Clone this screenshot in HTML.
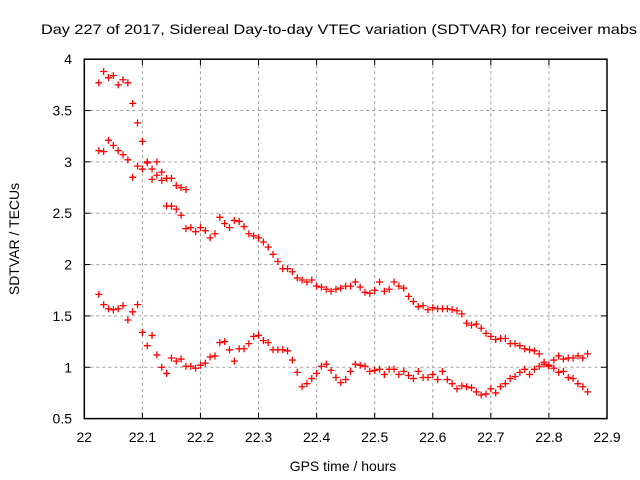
<!DOCTYPE html>
<html><head><meta charset="utf-8"><style>
html,body{margin:0;padding:0;background:#fff;}
svg{display:block;font-family:"Liberation Sans",sans-serif;}
</style></head><body>
<svg id="chart" width="640" height="480" viewBox="0 0 640 480" xmlns="http://www.w3.org/2000/svg">
<rect width="640" height="480" fill="#fff"/>
<text x="41" y="34" font-size="14" textLength="596" lengthAdjust="spacingAndGlyphs" fill="#000">Day 227 of 2017, Sidereal Day-to-day VTEC variation (SDTVAR) for receiver mabs</text>
<g id="grid"></g>
<g id="axes"></g>
<g id="marks"></g>
<text x="343" y="471" font-size="14" text-anchor="middle" fill="#000">GPS time / hours</text>
<text transform="translate(19,239) rotate(-90)" font-size="14" text-anchor="middle" fill="#000">SDTVAR / TECUs</text>
</svg>
<script>
const xTicks = [22, 22.1, 22.2, 22.3, 22.4, 22.5, 22.6, 22.7, 22.8, 22.9];
const xTickLabels = ["22","22.1","22.2","22.3","22.4","22.5","22.6","22.7","22.8","22.9"];
const yTicks = [0.5, 1, 1.5, 2, 2.5, 3, 3.5, 4];
const yTickLabels = ["0.5","1","1.5","2","2.5","3","3.5","4"];
const tStart = 22.025;
const tStep = 1/120;
const seriesA = [3.77,3.88,3.82,3.84,3.75,3.80,3.77,3.57,3.38,3.20,3.00,2.93,3.00,2.90,2.84,2.84,2.77,2.75,2.73];
const seriesB = [3.11,3.10,3.21,3.16,3.11,3.07,3.02,2.85,2.96,2.93,2.99,2.83,2.87,2.82,2.57,2.57,2.54,2.48,2.35,
2.36,2.32,2.36,2.33,2.26,2.30,2.46,2.40,2.36,2.43,2.42,2.37,2.30,2.28,2.26,2.22,2.17,
2.10,2.03,1.96,1.96,1.93,1.87,1.85,1.83,1.85,1.79,1.78,1.76,1.74,1.76,1.77,1.79,1.79,1.83,1.78,1.73,1.72,1.75,1.83,1.74,1.76,1.83,1.79,1.77,1.69,1.64,1.59,1.60,1.56,1.58,1.57,1.57,1.57,
1.56,1.55,1.52,1.43,1.41,1.42,1.38,1.33,1.30,1.27,1.28,1.28,1.23,1.23,1.21,1.18,1.17,1.16,1.13,1.05,1.02,1.07,1.11,1.08,1.09,1.09,1.11,1.09,1.13];
const seriesC = [1.71,1.61,1.57,1.56,1.57,1.60,1.46,1.54,1.61,1.34,1.21,1.31,1.12,1.00,0.94,1.09,1.06,1.08,1.01,1.01,0.99,1.02,1.04,1.10,1.11,1.24,1.25,1.17,1.06,1.18,1.18,1.23,1.30,1.31,1.26,1.24,
1.17,1.17,1.17,1.16,1.07,0.95,0.81,0.84,0.89,0.94,1.01,1.03,0.97,0.90,0.85,0.88,0.96,1.03,1.02,1.01,0.96,0.97,0.98,0.93,0.98,0.98,0.93,0.96,0.92,0.89,0.96,0.90,0.90,0.93,0.88,0.96,0.88,
0.84,0.79,0.82,0.81,0.80,0.76,0.73,0.74,0.79,0.75,0.81,0.84,0.89,0.91,0.95,0.98,0.93,0.98,1.01,1.03,1.01,0.99,0.95,0.96,0.90,0.89,0.84,0.81,0.76];

const L=84.3, R=607, T=59.2, B=418.6;
const xMin=22, xMax=22.9, yMin=0.5, yMax=4;
function xs(v){return L+(v-xMin)/(xMax-xMin)*(R-L);}
function ys(v){return B-(v-yMin)/(yMax-yMin)*(B-T);}
const NS="http://www.w3.org/2000/svg";
function mk(tag,attrs,parent){const e=document.createElementNS(NS,tag);for(const k in attrs)e.setAttribute(k,attrs[k]);parent.appendChild(e);return e;}
const grid=document.getElementById('grid'), axes=document.getElementById('axes'), marks=document.getElementById('marks');

xTicks.forEach((v,i)=>{
  const x=xs(v);
  if(i>0&&i<xTicks.length-1){
    const g=mk('line',{x1:x,y1:T,x2:x,y2:B,stroke:'#a0a0a0','stroke-width':1,'stroke-dasharray':'3,3'},grid);
    
    
  }
  const t1=mk('line',{x1:x,y1:B,x2:x,y2:B-6,stroke:'#000','stroke-width':1},axes);
  
  
  const t2=mk('line',{x1:x,y1:T,x2:x,y2:T+6,stroke:'#000','stroke-width':1},axes);
  
  
  const lb=mk('text',{x:x,y:442,'font-size':14,'text-anchor':'middle',fill:'#000'},axes);
  lb.textContent=xTickLabels[i];
  
  
});
yTicks.forEach((v,i)=>{
  const y=ys(v);
  if(i>0&&i<yTicks.length-1){
    const g=mk('line',{x1:L,y1:y,x2:R,y2:y,stroke:'#a0a0a0','stroke-width':1,'stroke-dasharray':'3,3'},grid);
    
    
  }
  const t1=mk('line',{x1:L,y1:y,x2:L+6,y2:y,stroke:'#000','stroke-width':1},axes);
  
  
  const t2=mk('line',{x1:R,y1:y,x2:R-6,y2:y,stroke:'#000','stroke-width':1},axes);
  
  
  const lb=mk('text',{x:72,y:y+5,'font-size':14,'text-anchor':'end',fill:'#000'},axes);
  lb.textContent=yTickLabels[i];
  
  
});
const frame=mk('rect',{x:L,y:T,width:R-L,height:B-T,fill:'none',stroke:'#000','stroke-width':1.5},axes);



function plot(arr,name){
  arr.forEach((v,i)=>{
    const x=xs(tStart+i*tStep), y=ys(v);
    const p=mk('path',{d:`M${x-3.5},${y}H${x+3.5}M${x},${y-3.5}V${y+3.5}`,stroke:'#ff0000','stroke-width':1.3,fill:'none'},marks);
    
    
  });
}
plot(seriesA,'point-series-a');
plot(seriesB,'point-series-b');
plot(seriesC,'point-series-c');
</script>
</body></html>
